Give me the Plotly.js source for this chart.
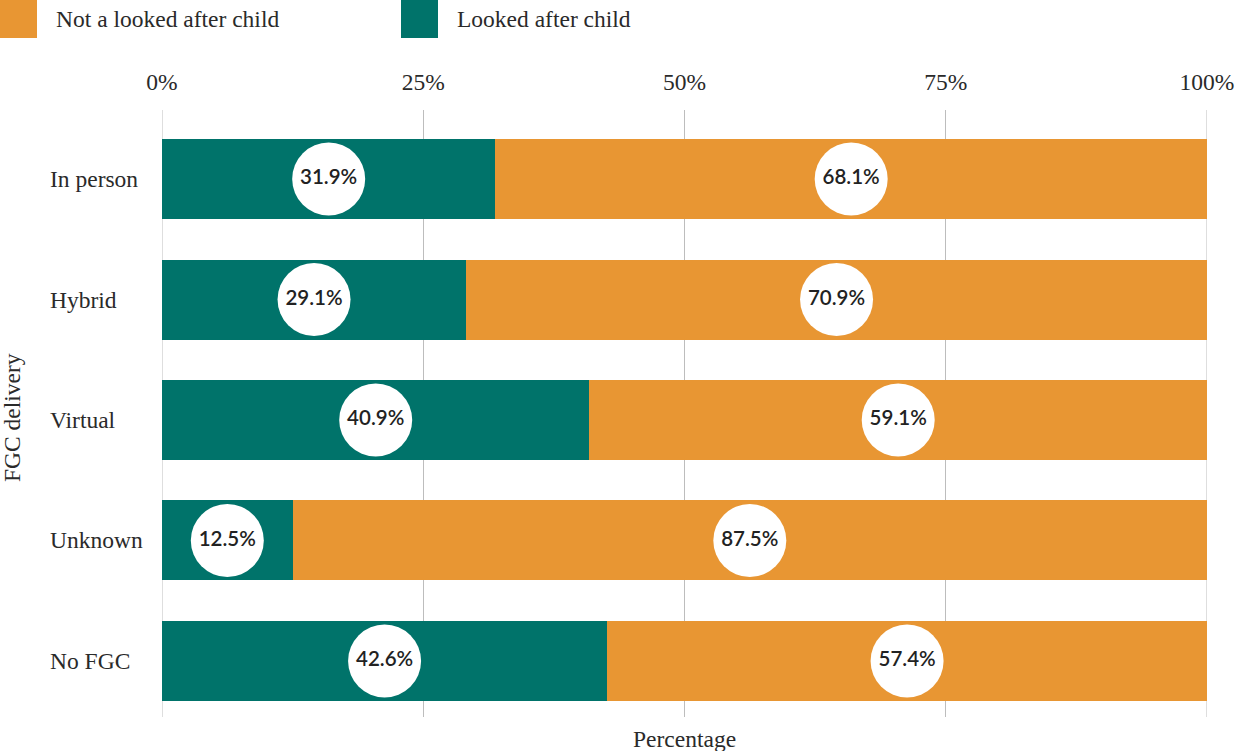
<!DOCTYPE html>
<html><head><meta charset="utf-8">
<script src="https://cdn.plot.ly/plotly-3.0.1.min.js"></script>
<style>html,body{margin:0;padding:0;background:#fff}#chart{width:1239px;height:751px}</style>
</head><body><div id="chart"></div>
<script>
const categories = ["In person", "Hybrid", "Virtual", "Unknown", "No FGC"];
const lookedAfter = [31.9, 29.1, 40.9, 12.5, 42.6];
const notLookedAfter = [68.1, 70.9, 59.1, 87.5, 57.4];
const seriesNames = ["Not a looked after child", "Looked after child"];
const tickVals = [0, 25, 50, 75, 100];
const tickText = ["0%", "25%", "50%", "75%", "100%"];

const TEAL = "#00736A", ORANGE = "#E89633";
const serif = "Liberation Serif, serif";
const sans = "Lato, sans-serif";
const FS = 23.5;

const traces = [
  {type:"bar", orientation:"h", y:categories, x:lookedAfter, name:seriesNames[1],
   marker:{color:TEAL, line:{width:0}}, width:0.664, hoverinfo:"skip"},
  {type:"bar", orientation:"h", y:categories, x:notLookedAfter, name:seriesNames[0],
   marker:{color:ORANGE, line:{width:0}}, width:0.664, hoverinfo:"skip"},
  {type:"scatter", mode:"markers+text", y:categories,
   x:lookedAfter.map(v=>v/2), text:lookedAfter.map(v=>v.toFixed(1)+"%"),
   textposition:"middle center", textfont:{family:sans, size:20.5, color:"#222", weight:600},
   marker:{size:73, color:"#fff", line:{width:0}}, cliponaxis:false, hoverinfo:"skip"},
  {type:"scatter", mode:"markers+text", y:categories,
   x:lookedAfter.map((v,i)=>v+notLookedAfter[i]/2), text:notLookedAfter.map(v=>v.toFixed(1)+"%"),
   textposition:"middle center", textfont:{family:sans, size:20.5, color:"#222", weight:600},
   marker:{size:73, color:"#fff", line:{width:0}}, cliponaxis:false, hoverinfo:"skip"}
];

const annotations = categories.map(c=>({
  xref:"paper", yref:"y", x:-0.1095, y:c, xanchor:"left", yanchor:"middle",
  text:c, showarrow:false, font:{family:serif, size:FS, color:"#2a2a2a"}
}));
annotations.push({xref:"paper", yref:"paper", x:-0.1435, y:(717-418)/607, textangle:-90,
  text:"FGC delivery", showarrow:false, xanchor:"center", yanchor:"middle",
  font:{family:serif, size:FS, color:"#2a2a2a"}});
annotations.push({xref:"paper", yref:"paper", x:0.5, y:(717-739)/607, yanchor:"middle",
  text:"Percentage", showarrow:false, font:{family:serif, size:FS, color:"#2a2a2a"}});
// legend
const legendItems = [{name:seriesNames[0], color:ORANGE, px:0}, {name:seriesNames[1], color:TEAL, px:401}];
const shapes = [];
legendItems.forEach(it=>{
  const x0 = (it.px-162)/1045, x1 = (it.px+37-162)/1045;
  shapes.push({type:"rect", xref:"paper", yref:"paper", x0:x0, x1:x1,
    y0:(717-38)/607, y1:(717-0)/607, fillcolor:it.color, line:{width:0}});
  annotations.push({xref:"paper", yref:"paper", x:(it.px+54-162)/1045, y:(717-19)/607,
    xanchor:"left", yanchor:"middle", text:it.name, showarrow:false,
    font:{family:serif, size:FS, color:"#2a2a2a"}});
});
[tickVals[0], tickVals[tickVals.length-1]].forEach(v=>{
  shapes.push({type:"line", xref:"x", yref:"paper", x0:v, x1:v, y0:0, y1:1,
    line:{color:"#bdbdbd", width:1}, layer:"below"});
});

const layout = {
  width:1239, height:751, barmode:"stack", showlegend:false,
  margin:{l:162, r:32, t:110, b:34},
  paper_bgcolor:"#fff", plot_bgcolor:"#fff",
  xaxis:{side:"top", range:[0,100], tickvals:tickVals, ticktext:tickText,
    showgrid:true, gridcolor:"#bdbdbd", gridwidth:1, zeroline:false,
    ticks:"outside", ticklen:10, tickcolor:"rgba(0,0,0,0)",
    tickfont:{family:serif, size:FS, color:"#2a2a2a"}, fixedrange:true, showline:false},
  yaxis:{range:[4.465, -0.573], showticklabels:false, showgrid:false, zeroline:false,
    ticks:"", fixedrange:true, showline:false},
  annotations:annotations, shapes:shapes
};
Plotly.newPlot("chart", traces, layout, {staticPlot:true});
</script></body></html>
